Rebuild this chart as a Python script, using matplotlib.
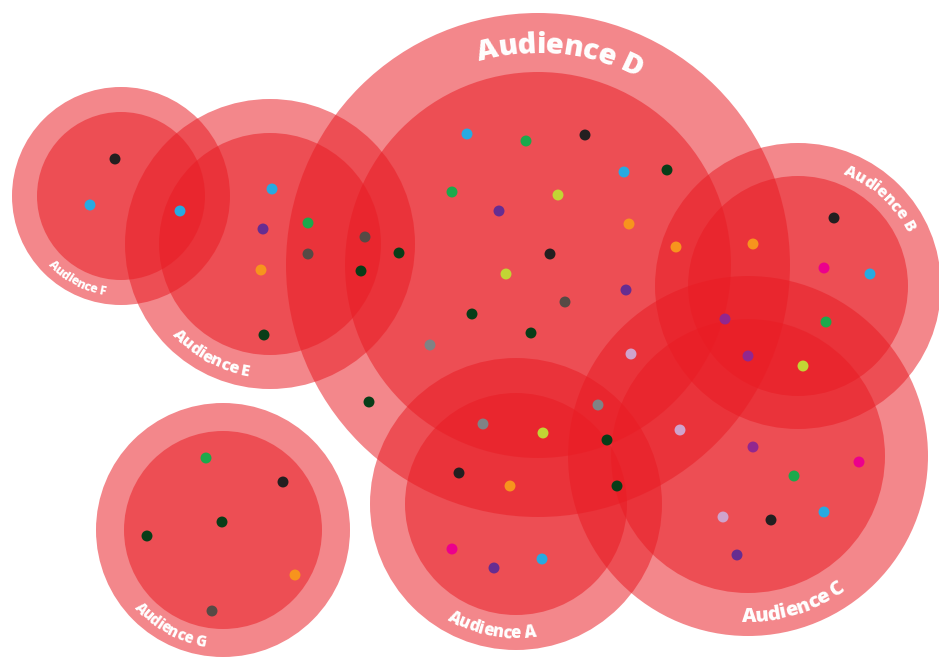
import numpy as np
import matplotlib
matplotlib.use("Agg")
import matplotlib.pyplot as plt
from matplotlib.patches import Circle
from matplotlib.font_manager import FontProperties
from matplotlib.textpath import text_to_path

W, H, DPI = 939, 657, 100

# audiences: centre (pixels, y down), outer and inner radius
names = ["Audience A", "Audience B", "Audience C", "Audience D",
         "Audience E", "Audience F", "Audience G"]
circle_x = [516, 798, 748, 538, 270, 121, 223]
circle_y = [504, 286, 456, 265, 244, 196, 530]
outer_r = [146, 143, 180, 252, 145, 109, 127]
inner_r = [111, 110, 137, 193, 111, 84, 99]

# label placement along the outer ring
label_angle = [259, 47, 287, 84, 242, 242, 241]
label_top = [False, True, False, True, False, False, False]
label_size = [12, 11.5, 14.5, 21, 11.8, 8.7, 10.6]

# dots
dot_x = [115, 90, 180,
         272, 263, 308, 308, 261, 365, 361, 399, 264,
         467, 526, 585, 624, 667, 452, 499, 558, 629, 550, 506, 626, 565,
         472, 531, 430, 676, 753, 369, 631,
         834, 824, 870, 725, 826, 748, 803,
         598, 680, 607, 617, 753, 859, 794, 824, 723, 771, 737,
         483, 543, 459, 510, 452, 494, 542,
         206, 283, 222, 147, 295, 212]
dot_y = [159, 205, 211,
         189, 229, 223, 254, 270, 237, 271, 253, 335,
         134, 141, 135, 172, 170, 192, 211, 195, 224, 254, 274, 290, 302,
         314, 333, 345, 247, 244, 402, 354,
         218, 268, 274, 319, 322, 356, 366,
         405, 430, 440, 486, 447, 462, 476, 512, 517, 520, 555,
         424, 433, 473, 486, 549, 568, 559,
         458, 482, 522, 536, 575, 611]
dot_kind = ["black", "blue", "blue",
            "blue", "violet", "green", "brown", "orange", "brown", "dkgreen", "dkgreen", "dkgreen",
            "blue", "green", "black", "blue", "dkgreen", "green", "violet", "lime", "orange",
            "black", "lime", "violet", "brown",
            "dkgreen", "dkgreen", "gray", "orange", "orange", "dkgreen", "lilac",
            "black", "magenta", "blue", "plum", "green", "plum", "lime",
            "gray", "lilac", "dkgreen", "dkgreen", "plum", "magenta", "green", "blue", "lilac",
            "black", "violet",
            "gray", "lime", "black", "orange", "magenta", "violet", "blue",
            "green", "black", "dkgreen", "dkgreen", "orange", "brown"]

palette = {
    "black": "#231f20", "blue": "#27aae1", "green": "#1ba94c",
    "violet": "#662d91", "plum": "#92278f", "orange": "#f7941d",
    "lime": "#c2d534", "dkgreen": "#083d18", "brown": "#574a45",
    "gray": "#808285", "lilac": "#cfa3cc", "magenta": "#ec008c",
}

FAMILY = "Open Sans"
TRACKING = 0.96


def text_w(s, fp):
    if not s.strip():
        return 0.0
    w, _, _ = text_to_path.get_text_width_height_descent(s, fp, ismath=False)
    return w * DPI / 72.0


def curved_label(ax, text, cx, cy, r_mid, center_deg, size, top):
    fp = FontProperties(family=FAMILY, weight="heavy", size=size)
    total = text_w(text, fp) * TRACKING
    cap = 0.714 * size * DPI / 72.0
    r_base = r_mid - cap / 2 if top else r_mid + cap / 2
    for i, ch in enumerate(text):
        if ch == " ":
            continue
        c = (text_w(text[:i + 1], fp) - text_w(ch, fp) / 2) * TRACKING
        s = c - total / 2
        if top:
            phi = np.radians(center_deg) - s / r_base
            rot = np.degrees(phi) - 90
        else:
            phi = np.radians(center_deg) + s / r_base
            rot = np.degrees(phi) + 90
        x = cx + r_base * np.cos(phi)
        y = cy - r_base * np.sin(phi)
        ax.text(x, y, ch, fontproperties=fp, color="white",
                ha="center", va="baseline", rotation=rot,
                rotation_mode="anchor", zorder=5)


def main():
    fig = plt.figure(figsize=(W / DPI, H / DPI), dpi=DPI)
    ax = fig.add_axes([0, 0, 1, 1])
    ax.set_xlim(0, W)
    ax.set_ylim(H, 0)
    ax.axis("off")

    red = "#e91c24"
    for i in range(len(names)):
        for rad in (outer_r[i], inner_r[i]):
            ax.add_patch(Circle((circle_x[i], circle_y[i]), rad,
                                facecolor=red, edgecolor="none", alpha=0.53,
                                zorder=1))

    for i in range(len(names)):
        r_mid = (outer_r[i] + inner_r[i]) / 2
        curved_label(ax, names[i], circle_x[i], circle_y[i], r_mid,
                     label_angle[i], label_size[i], label_top[i])

    ax.scatter(dot_x, dot_y, s=62, c=[palette[k] for k in dot_kind],
               linewidths=0, zorder=4)

    fig.savefig("out.png", dpi=DPI, facecolor="white")


if __name__ == "__main__":
    main()
